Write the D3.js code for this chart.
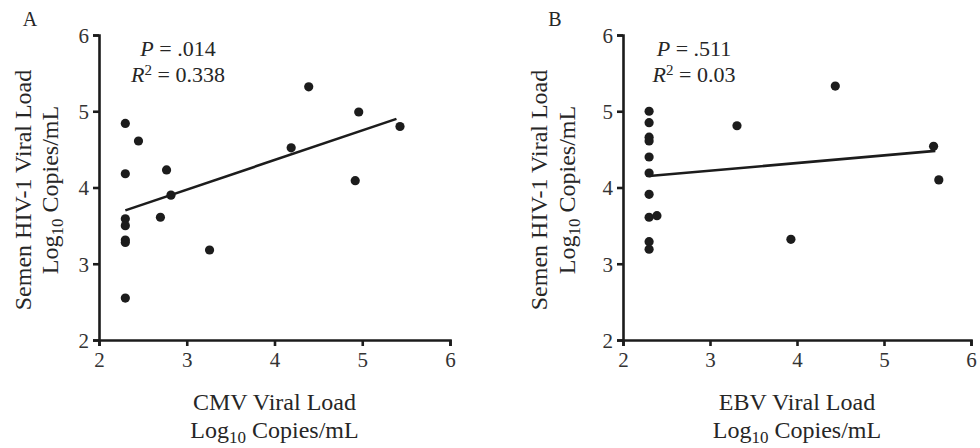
<!DOCTYPE html>
<html>
<head>
<meta charset="utf-8">
<script src="https://cdn.jsdelivr.net/npm/d3@7"></script>
<style>
  html, body { margin: 0; padding: 0; background: #fff; }
  svg { display: block; }
</style>
</head>
<body>
<svg id="chart" width="980" height="448" font-family="Liberation Serif"></svg>
<script>
// ---- Data ----
const axisTicks = [2, 3, 4, 5, 6];

// Panel A: CMV vs semen HIV-1
const cmvX = [2.30, 2.45, 2.30, 2.77, 2.82, 2.70, 2.30, 2.30, 2.30, 2.30, 3.26, 4.39, 4.96, 4.19, 5.43, 4.92, 2.30];
const cmvY = [4.84, 4.61, 4.18, 4.23, 3.90, 3.61, 3.59, 3.50, 3.31, 3.28, 3.18, 5.32, 4.99, 4.52, 4.80, 4.09, 2.55];
const cmvFitX = [2.30, 5.39];
const cmvFitY = [3.70, 4.90];

// Panel B: EBV vs semen HIV-1
const ebvX = [2.30, 2.30, 2.30, 2.30, 2.30, 2.30, 2.30, 2.30, 2.39, 2.30, 2.30, 3.31, 4.44, 3.93, 5.57, 5.63];
const ebvY = [5.00, 4.85, 4.66, 4.61, 4.40, 4.19, 3.91, 3.61, 3.63, 3.29, 3.19, 4.81, 5.33, 3.32, 4.54, 4.10];
const ebvFitX = [2.30, 5.59];
const ebvFitY = [4.15, 4.48];

const panels = [
  { letter: "A", xName: "CMV Viral Load", p: ".014", r2: "0.338", xs: cmvX, ys: cmvY, fx: cmvFitX, fy: cmvFitY },
  { letter: "B", xName: "EBV Viral Load", p: ".511", r2: "0.03", xs: ebvX, ys: ebvY, fx: ebvFitX, fy: ebvFitY }
];

// ---- Layout ----
const layout = [
  { left: 99, right: 450, letterX: 30, yTitleX: [31, 58], statX: 178 },
  { left: 623, right: 971, letterX: 555, yTitleX: [547, 575], statX: 694 }
];
const plotTop = 35, plotBottom = 340;
const ink = "#1c1c1c";
const FONT = "Liberation Serif";
const txtFill = "#262626";

const svg = d3.select("#chart");

function addText(parent) {
  return parent.append("text").attr("font-family", FONT).attr("fill", txtFill);
}

panels.forEach((pd, i) => {
  const L = layout[i];
  const x = d3.scaleLinear().domain([2, 6]).range([L.left, L.right]);
  const y = d3.scaleLinear().domain([2, 6]).range([plotBottom, plotTop]);
  const g = svg.append("g");

  // panel letter
  addText(g).attr("x", L.letterX).attr("y", 26)
    .attr("text-anchor", "middle").attr("font-size", 20).text(pd.letter);

  // axes
  const yAxis = g.append("g").attr("transform", `translate(${L.left},0)`)
    .call(d3.axisLeft(y).tickValues(axisTicks).tickFormat(d3.format("d")).tickSize(6).tickPadding(4));
  const xAxis = g.append("g").attr("transform", `translate(0,${plotBottom})`)
    .call(d3.axisBottom(x).tickValues(axisTicks).tickFormat(d3.format("d")).tickSize(6).tickPadding(6));
  [yAxis, xAxis].forEach(a => {
    a.attr("font-family", FONT).attr("font-size", 21);
    a.select(".domain").attr("stroke", ink).attr("stroke-width", 2.6);
    a.selectAll(".tick line").attr("stroke", ink).attr("stroke-width", 2.6);
    a.selectAll(".tick text").attr("fill", "#333");
  });
  yAxis.selectAll(".tick text").attr("dy", "0.35em");

  // y title
  const cy = 190;
  addText(g).attr("transform", `translate(${L.yTitleX[0]},${cy}) rotate(-90)`)
    .attr("text-anchor", "middle").attr("font-size", 24).text("Semen HIV-1 Viral Load");
  const yt2 = addText(g).attr("transform", `translate(${L.yTitleX[1]},${cy}) rotate(-90)`)
    .attr("text-anchor", "middle").attr("font-size", 24);
  yt2.append("tspan").text("Log");
  yt2.append("tspan").attr("dy", 5).attr("font-size", 17).text("10");
  yt2.append("tspan").attr("dy", -5).text(" Copies/mL");

  // x title
  const cx = (L.left + L.right) / 2;
  addText(g).attr("x", cx).attr("y", 410).attr("text-anchor", "middle")
    .attr("font-size", 24).text(pd.xName);
  const xt2 = addText(g).attr("x", cx).attr("y", 438).attr("text-anchor", "middle")
    .attr("font-size", 24);
  xt2.append("tspan").text("Log");
  xt2.append("tspan").attr("dy", 5).attr("font-size", 17).text("10");
  xt2.append("tspan").attr("dy", -5).text(" Copies/mL");

  // stats
  const s1 = addText(g).attr("x", L.statX).attr("y", 56).attr("text-anchor", "middle")
    .attr("font-size", 22);
  s1.append("tspan").attr("font-style", "italic").text("P");
  s1.append("tspan").text(" = " + pd.p);
  const s2 = addText(g).attr("x", L.statX).attr("y", 82).attr("text-anchor", "middle")
    .attr("font-size", 22);
  s2.append("tspan").attr("font-style", "italic").text("R");
  s2.append("tspan").attr("dy", -7).attr("font-size", 15).text("2");
  s2.append("tspan").attr("dy", 7).text(" = " + pd.r2);

  // fit line
  const fit = pd.fx.map((v, k) => [v, pd.fy[k]]);
  g.append("path").datum(fit)
    .attr("d", d3.line().x(d => x(d[0])).y(d => y(d[1])))
    .attr("stroke", ink).attr("stroke-width", 2.6).attr("fill", "none");

  // points
  const pts = pd.xs.map((v, k) => [v, pd.ys[k]]);
  g.selectAll("circle.pt").data(pts).join("circle").attr("class", "pt")
    .attr("cx", d => x(d[0])).attr("cy", d => y(d[1])).attr("r", 4.6)
    .attr("fill", ink);
});
</script>
</body>
</html>
